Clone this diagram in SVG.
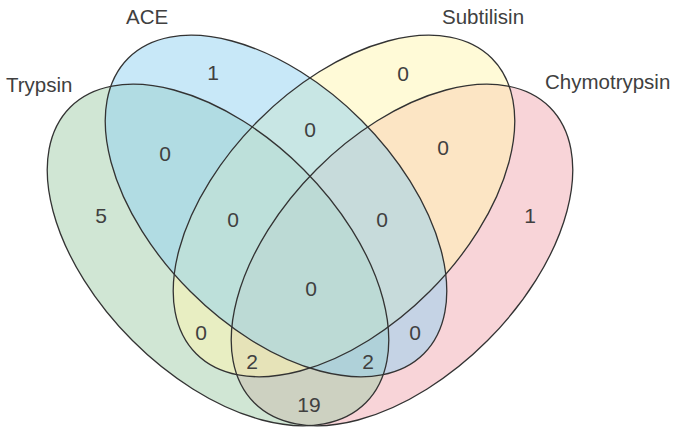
<svg xmlns="http://www.w3.org/2000/svg" xmlns:xlink="http://www.w3.org/1999/xlink" width="678" height="432" viewBox="0 0 678 432">
  <style>
    .fill { stroke: none; fill-opacity: 0.5; }
    .edge { fill: none; stroke: #333333; stroke-width: 1.3; }
    .name { font-family: "Liberation Sans", Arial, sans-serif; font-size: 20.5px; fill: #404040; }
    .count { font-family: "Liberation Sans", Arial, sans-serif; font-size: 21px; fill: #404040; text-anchor: middle; }
  </style>
  <defs>
    <ellipse id="shape-chymotrypsin" cx="402" cy="255" rx="209" ry="121" transform="rotate(-45 402 255)"/>
    <ellipse id="shape-trypsin" cx="218" cy="255" rx="209" ry="121" transform="rotate(45 218 255)"/>
    <ellipse id="shape-subtilisin" cx="344" cy="206" rx="209" ry="121" transform="rotate(-45 344 206)"/>
    <ellipse id="shape-ace" cx="276" cy="206" rx="209" ry="121" transform="rotate(45 276 206)"/>
  </defs>
  <rect width="678" height="432" fill="#ffffff"/>

  <!-- four-set Venn: fills stacked pink, green, yellow, blue -->
  <g id="chymotrypsin">
    <use xlink:href="#shape-chymotrypsin" href="#shape-chymotrypsin" class="fill" fill="#f1a9b1"/>
    <text class="name" x="545" y="89">Chymotrypsin</text>
  </g>
  <g id="trypsin">
    <use xlink:href="#shape-trypsin" href="#shape-trypsin" class="fill" fill="#a1cda9"/>
    <text class="name" x="6" y="92">Trypsin</text>
  </g>
  <g id="subtilisin">
    <use xlink:href="#shape-subtilisin" href="#shape-subtilisin" class="fill" fill="#fff5af"/>
    <text class="name" x="442" y="24">Subtilisin</text>
  </g>
  <g id="ace">
    <use xlink:href="#shape-ace" href="#shape-ace" class="fill" fill="#91d1f1"/>
    <text class="name" x="126" y="24">ACE</text>
  </g>

  <!-- outlines drawn above all fills -->
  <g id="outlines" class="edge">
    <use xlink:href="#shape-chymotrypsin" href="#shape-chymotrypsin"/>
    <use xlink:href="#shape-trypsin" href="#shape-trypsin"/>
    <use xlink:href="#shape-subtilisin" href="#shape-subtilisin"/>
    <use xlink:href="#shape-ace" href="#shape-ace"/>
  </g>

  <!-- region counts -->
  <g id="counts">
    <text class="count" x="213" y="80">1</text>
    <text class="count" x="403" y="81">0</text>
    <text class="count" x="165" y="161">0</text>
    <text class="count" x="310" y="137">0</text>
    <text class="count" x="443" y="155">0</text>
    <text class="count" x="101" y="223">5</text>
    <text class="count" x="530" y="223">1</text>
    <text class="count" x="233" y="227">0</text>
    <text class="count" x="382" y="227">0</text>
    <text class="count" x="311" y="296">0</text>
    <text class="count" x="201" y="340">0</text>
    <text class="count" x="252" y="369">2</text>
    <text class="count" x="368" y="369">2</text>
    <text class="count" x="415" y="340">0</text>
    <text class="count" x="309" y="412">19</text>
  </g>
</svg>
